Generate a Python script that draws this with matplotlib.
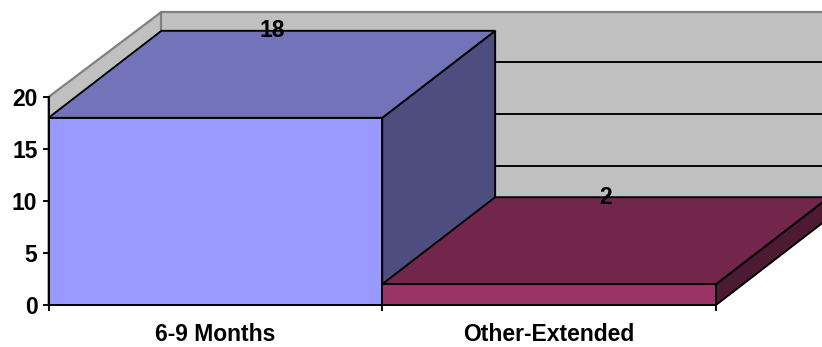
import matplotlib
matplotlib.use('Agg')
import matplotlib.pyplot as plt
from matplotlib.patches import Polygon

categories = ['6-9 Months', 'Other-Extended']
values = [18, 2]
y_ticks = [0, 5, 10, 15, 20]

front_colors = ['#9999FF', '#993366']
top_colors = ['#7373BA', '#73264C']
side_colors = ['#4D4D80', '#4D1A33']
wall_color = '#C0C0C0'
wall_edge = '#808080'

# depth of the 3D box, in axis units
DX = 113 / 334
DY = 87 / 10.4
WALL_TOP = 20 + 85 / 10.4
LW = 1.35
FONT = 16.5


def face(ax, pts, color, edge='black', z=2, lw=LW):
    ax.add_patch(Polygon(pts, closed=True, facecolor=color, edgecolor=edge,
                         linewidth=lw, joinstyle='miter', clip_on=False, zorder=z))


def main():
    plt.rcParams['font.family'] = ['Liberation Sans', 'DejaVu Sans']
    fig = plt.figure(figsize=(8.22, 3.47), dpi=100)
    ax = fig.add_axes([48.5 / 822, 42 / 347, 667.5 / 822, 208 / 347])
    ax.set_xlim(0, 2)
    ax.set_ylim(0, 20)
    ax.patch.set_visible(False)

    # walls
    n = len(categories)
    face(ax, [(0, 0), (DX, DY), (DX, WALL_TOP), (0, 20)], wall_color, wall_edge, 1, 1.6)
    face(ax, [(DX, DY), (n + DX, DY), (n + DX, WALL_TOP), (DX, WALL_TOP)], wall_color, wall_edge, 1, 1.6)
    for t in y_ticks[1:-1]:
        ax.plot([DX, n + DX], [t + DY, t + DY], color='black', lw=LW, clip_on=False, zorder=1.5)

    # bars: side, top, then front
    for i, v in enumerate(values):
        z = 2 + i
        face(ax, [(i + 1, 0), (i + 1 + DX, DY), (i + 1 + DX, v + DY), (i + 1, v)], side_colors[i], z=z)
        face(ax, [(i, v), (i + DX, v + DY), (i + 1 + DX, v + DY), (i + 1, v)], top_colors[i], z=z)
        face(ax, [(i, 0), (i + 1, 0), (i + 1, v), (i, v)], front_colors[i], z=z)
        ax.text(i + 0.5 + DX / 2, v + DY + 0.25, str(v), ha='center', va='center_baseline',
                fontsize=FONT, fontweight='bold', zorder=6, clip_on=False)

    for s in ['top', 'right']:
        ax.spines[s].set_visible(False)
    for s in ['left', 'bottom']:
        ax.spines[s].set_linewidth(LW)
        ax.spines[s].set_zorder(5)

    ax.set_yticks(y_ticks)
    ax.set_xticks(range(n + 1))
    ax.set_xticklabels([])
    ax.set_xticks([i + 0.5 for i in range(n)], minor=True)
    ax.set_xticklabels(categories, minor=True, fontsize=FONT, fontweight='bold')
    ax.tick_params(axis='x', which='minor', length=0, pad=13)
    ax.tick_params(axis='both', which='major', length=4.5, width=LW, direction='out')
    ax.tick_params(axis='y', labelsize=FONT, pad=3.5)
    for lab in ax.get_yticklabels():
        lab.set_fontweight('bold')

    fig.savefig('out.png', dpi=100)


if __name__ == "__main__":
    main()
